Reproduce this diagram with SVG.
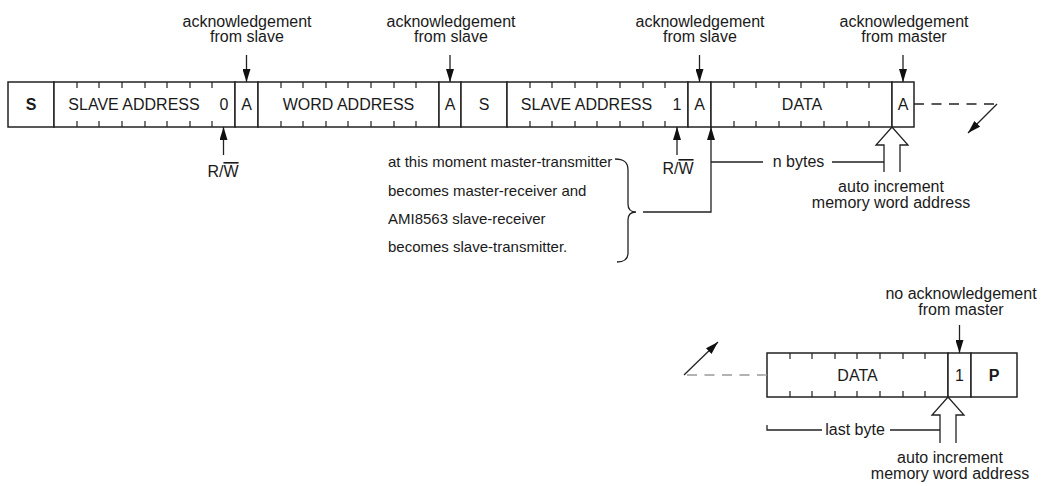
<svg xmlns="http://www.w3.org/2000/svg" width="1042" height="486" viewBox="0 0 1042 486">
<style>
text{font-family:"Liberation Sans",Arial,sans-serif;fill:#1a1a1a}
.l{font-size:16px;text-anchor:middle}
.c{font-size:16px;text-anchor:middle}
.b{font-weight:bold}
.n{font-size:15px}
.cell{fill:#fff;stroke:#222;stroke-width:1.5}
.tk{stroke:#222;stroke-width:1.2;fill:none}
.ln{stroke:#222;stroke-width:1.3;fill:none}
.hol{stroke:#222;stroke-width:1.3;fill:#fff}
</style>
<defs>
<marker id="ah" viewBox="0 0 13 8" refX="13" refY="4" markerWidth="13" markerHeight="8" markerUnits="userSpaceOnUse" orient="auto">
<path d="M0,0 L13,4 L0,8 z" fill="#111"/>
</marker>
</defs>
<rect width="1042" height="486" fill="#fff"/>

<g id="f-start"><rect class="cell" x="8" y="82" width="46" height="45"/><text class="c b" x="31" y="110">S</text></g>
<g id="f-slave1"><rect class="cell" x="54" y="82" width="181" height="45"/>
<path class="tk" d="M77,82v6M77,127v-6M99,82v6M99,127v-6M122,82v6M122,127v-6M145,82v6M145,127v-6M167,82v6M167,127v-6M190,82v6M190,127v-6M212,82v6M212,127v-6"/>
<text class="c" x="134" y="110">SLAVE ADDRESS</text><text class="c" x="224" y="110">0</text></g>
<g id="f-ack1"><rect class="cell" x="235" y="82" width="23" height="45"/><text class="c" x="246.5" y="110">A</text></g>
<g id="f-word"><rect class="cell" x="258" y="82" width="181" height="45"/>
<path class="tk" d="M281,82v6M281,127v-6M303,82v6M303,127v-6M326,82v6M326,127v-6M348,82v6M348,127v-6M371,82v6M371,127v-6M394,82v6M394,127v-6M416,82v6M416,127v-6"/>
<text class="c" x="348.5" y="110">WORD ADDRESS</text></g>
<g id="f-ack2"><rect class="cell" x="439" y="82" width="22" height="45"/><text class="c" x="450" y="110">A</text></g>
<g id="f-start2"><rect class="cell" x="461" y="82" width="46" height="45"/><text class="c" x="484" y="110">S</text></g>
<g id="f-slave2"><rect class="cell" x="507" y="82" width="181" height="45"/>
<path class="tk" d="M530,82v6M530,127v-6M552,82v6M552,127v-6M575,82v6M575,127v-6M597,82v6M597,127v-6M620,82v6M620,127v-6M643,82v6M643,127v-6M665,82v6M665,127v-6"/>
<text class="c" x="586.5" y="110">SLAVE ADDRESS</text><text class="c" x="677" y="110">1</text></g>
<g id="f-ack3"><rect class="cell" x="688" y="82" width="23" height="45"/><text class="c" x="699.5" y="110">A</text></g>
<g id="f-data1"><rect class="cell" x="711" y="82" width="181" height="45"/>
<path class="tk" d="M734,82v6M734,127v-6M756,82v6M756,127v-6M779,82v6M779,127v-6M801,82v6M801,127v-6M824,82v6M824,127v-6M847,82v6M847,127v-6M869,82v6M869,127v-6"/>
<text class="c" x="802" y="110">DATA</text></g>
<g id="f-ack4"><rect class="cell" x="892" y="82" width="22" height="45"/><text class="c" x="903" y="110">A</text></g>

<g id="f-data2"><rect class="cell" x="767" y="353" width="181" height="44"/>
<path class="tk" d="M790,353v6M790,397v-6M812,353v6M812,397v-6M835,353v6M835,397v-6M857,353v6M857,397v-6M880,353v6M880,397v-6M903,353v6M903,397v-6M925,353v6M925,397v-6"/>
<text class="c" x="857.5" y="381">DATA</text></g>
<g id="f-nack"><rect class="cell" x="948" y="353" width="23" height="44"/><text class="c" x="959.5" y="381">1</text></g>
<g id="f-stop"><rect class="cell" x="971" y="353" width="46" height="44"/><text class="c b" x="994" y="381">P</text></g>

<g id="labels">
<text class="l" x="247" y="27">acknowledgement</text><text class="l" x="247" y="42">from slave</text>
<text class="l" x="451" y="27">acknowledgement</text><text class="l" x="451" y="42">from slave</text>
<text class="l" x="700" y="27">acknowledgement</text><text class="l" x="700" y="42">from slave</text>
<text class="l" x="904" y="27">acknowledgement</text><text class="l" x="904" y="42">from master</text>
<text class="l" x="961" y="299">no acknowledgement</text><text class="l" x="961" y="315">from master</text>
<text class="l" x="223" y="177">R/<tspan style="text-decoration:overline">W</tspan></text>
<text class="l" x="678" y="174">R/<tspan style="text-decoration:overline">W</tspan></text>
<text class="l" x="798.5" y="167">n bytes</text>
<text class="l" x="891" y="192">auto increment</text><text class="l" x="891" y="208">memory word address</text>
<text class="l" x="855" y="435">last byte</text>
<text class="l" x="950" y="463">auto increment</text><text class="l" x="950" y="479">memory word address</text>
<text class="n" x="388" y="167">at this moment master-transmitter</text>
<text class="n" x="388" y="195.5">becomes master-receiver and</text>
<text class="n" x="388" y="224">AMI8563 slave-receiver</text>
<text class="n" x="388" y="252">becomes slave-transmitter.</text>
</g>

<g id="connectors">
<path class="ln" d="M246.5,55V82" marker-end="url(#ah)"/>
<path class="ln" d="M450,55V82" marker-end="url(#ah)"/>
<path class="ln" d="M699.5,55V82" marker-end="url(#ah)"/>
<path class="ln" d="M903,55V82" marker-end="url(#ah)"/>
<path class="ln" d="M959.5,325V353" marker-end="url(#ah)"/>
<path class="ln" d="M223.5,155V127" marker-end="url(#ah)"/>
<path class="ln" d="M677,155V127" marker-end="url(#ah)"/>
<path class="ln" d="M643,212H711V127" marker-end="url(#ah)"/>
<path class="ln" d="M711,162H763M832,162H884"/>
<path class="hol" d="M884,172V145H876L892,127L908,145H900V172"/>
<path class="ln" d="M615,159C624,159 628,162 628,170V204C628,209 631,212 636,212C631,212 628,215 628,220V253C628,259 624,262 617,262"/>
<path class="ln" d="M914,104H997" stroke-dasharray="10 7.5"/>
<path class="ln" d="M997,104L968,133" marker-end="url(#ah)"/>
<path class="ln" d="M767,375H684" stroke="#999" stroke-dasharray="10 7.5" style="stroke:#999"/>
<path class="ln" d="M684,375L718,342" marker-end="url(#ah)"/>
<path class="ln" d="M767,425V430H822M890,430H940"/>
<path class="hol" d="M940,443V415H932L948,397L964,415H956V443"/>
</g>
</svg>
